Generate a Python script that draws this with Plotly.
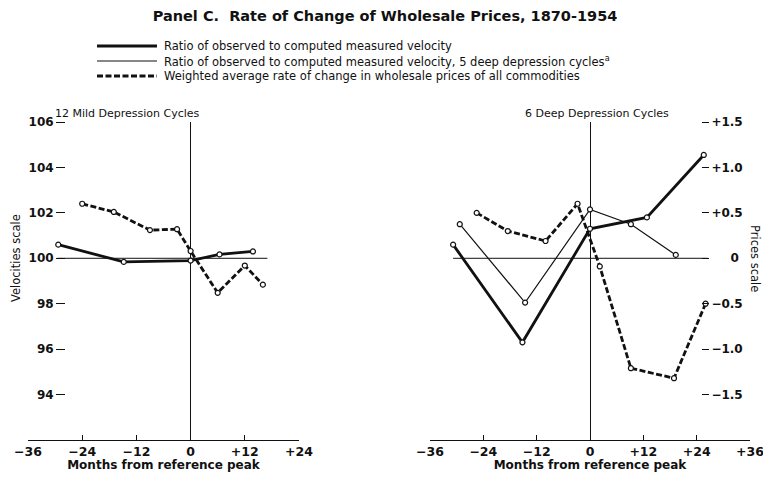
import plotly.graph_objects as go

# ------------------------------------------------------------
# values (months from reference peak)
# ------------------------------------------------------------
# 12 mild depression cycles
mild_vel_months = [-29.3, -14.8, 0, 6.4, 13.8]
mild_vel_ratio = [100.6, 99.84, 99.9, 100.17, 100.3]
mild_price_months = [-24, -17, -9, -3, 0, 6, 12, 16]
mild_price_rate = [0.6, 0.51, 0.31, 0.32, 0.08, -0.38, -0.08, -0.29]

# 6 deep depression cycles
deep_vel_months = [-30.8, -15.2, 0, 12.8, 25.6]
deep_vel_ratio = [100.6, 96.3, 101.3, 101.8, 104.55]
deep5_vel_months = [-29.3, -14.6, 0, 9.2, 19.3]
deep5_vel_ratio = [101.5, 98.05, 102.15, 101.5, 100.15]
deep_price_months = [-25.5, -18.5, -10, -2.8, 2.2, 9.2, 18.9, 26]
deep_price_rate = [0.5, 0.3, 0.19, 0.6, -0.09, -1.21, -1.32, -0.5]

# reference levels (velocity 100 / price change 0)
mild_ref_months = [-29.5, 17]
mild_ref_level = [100, 100]
deep_ref_months = [-30.8, 26.5]
deep_ref_level = [0, 0]

# tick labels
month_ticks_left = [-36, -24, -12, 0, 12, 24]
month_labels_left = ["\u221236", "\u221224", "\u221212", "0", "+12", "+24"]
month_ticks_right = [-36, -24, -12, 0, 12, 24, 36]
month_labels_right = ["\u221236", "\u221224", "\u221212", "0", "+12", "+24", "+36"]
vel_ticks = [94, 96, 98, 100, 102, 104, 106]
price_ticks = [-1.5, -1.0, -0.5, 0, 0.5, 1.0, 1.5]
price_labels = ["\u22121.5", "\u22121.0", "\u22120.5", "\u2007\u2007\u20090", "+0.5", "+1.0", "+1.5"]

legend_names = [
    "Ratio of observed to computed measured velocity",
    "Ratio of observed to computed measured velocity, 5 deep depression cycles<sup>a</sup>",
    "Weighted average rate of change in wholesale prices of all commodities",
]

INK = "#111111"
FONT = "DejaVu Sans"
PAGE = 8                      # body margin of the page around the figure
W, H = 771 - 2 * PAGE, 480 - 2 * PAGE

def px_x(p):
    # window pixel -> paper fraction
    return (p - PAGE) / W

def px_y(p):
    return (H - (p - PAGE)) / H

marker = dict(symbol="circle", size=5, color="white", line=dict(color=INK, width=1.2))
thick = dict(color=INK, width=2.8)
thin = dict(color=INK, width=1.2)
dashed = dict(color=INK, width=2.8, dash="6px,2.5px")

fig = go.Figure()

# ---- left panel ----
fig.add_trace(go.Scatter(x=mild_ref_months, y=mild_ref_level, mode="lines",
                         line=dict(color=INK, width=1), xaxis="x", yaxis="y"))
fig.add_trace(go.Scatter(x=mild_vel_months, y=mild_vel_ratio, mode="lines+markers",
                         line=thick, marker=marker, xaxis="x", yaxis="y"))
fig.add_trace(go.Scatter(x=mild_price_months, y=mild_price_rate, mode="lines+markers",
                         line=dashed, marker=marker, xaxis="x", yaxis="y3"))

# ---- right panel ----
fig.add_trace(go.Scatter(x=deep_ref_months, y=deep_ref_level, mode="lines",
                         line=dict(color=INK, width=1), xaxis="x2", yaxis="y2"))
fig.add_trace(go.Scatter(x=deep_vel_months, y=deep_vel_ratio, mode="lines+markers",
                         line=thick, marker=marker, xaxis="x2", yaxis="y4"))
fig.add_trace(go.Scatter(x=deep5_vel_months, y=deep5_vel_ratio, mode="lines+markers",
                         line=thin, marker=marker, xaxis="x2", yaxis="y4"))
fig.add_trace(go.Scatter(x=deep_price_months, y=deep_price_rate, mode="lines+markers",
                         line=dashed, marker=marker, xaxis="x2", yaxis="y2"))

# ---- key (drawn by hand, rows 15 px apart like the original) ----
key_rows = [46, 61, 76]
key_styles = [thick, thin, dashed]
shapes = []
annotations = []
for row, style, name in zip(key_rows, key_styles, legend_names):
    shapes.append(dict(type="line", xref="paper", yref="paper",
                       x0=px_x(97), x1=px_x(157), y0=px_y(row), y1=px_y(row), line=style))
    annotations.append(dict(text=name, x=px_x(162), y=px_y(row), xref="paper", yref="paper",
                            xanchor="left", yanchor="middle", showarrow=False,
                            font=dict(family=FONT, size=11.5, color=INK)))

annotations += [
    dict(text="12 Mild Depression Cycles", x=px_x(127), y=px_y(113), xref="paper", yref="paper",
         xanchor="center", yanchor="middle", showarrow=False,
         font=dict(family=FONT, size=11, color=INK)),
    dict(text="6 Deep Depression Cycles", x=px_x(597), y=px_y(113), xref="paper", yref="paper",
         xanchor="center", yanchor="middle", showarrow=False,
         font=dict(family=FONT, size=11, color=INK)),
    dict(text="Velocities scale", x=px_x(16), y=px_y(258), xref="paper", yref="paper",
         xanchor="center", yanchor="middle", textangle=-90, showarrow=False,
         font=dict(family=FONT, size=11.5, color=INK)),
    dict(text="Prices scale", x=px_x(755), y=px_y(258), xref="paper", yref="paper",
         xanchor="center", yanchor="middle", textangle=90, showarrow=False,
         font=dict(family=FONT, size=11.5, color=INK)),
]

ydom = [px_y(440), px_y(122)]
xcommon = dict(showline=True, linecolor=INK, linewidth=1.3, ticks="inside", ticklen=5,
               tickwidth=1.2, tickcolor=INK, showgrid=False, zeroline=True,
               zerolinecolor=INK, zerolinewidth=1.3, automargin=False,
               ticklabeloverflow="allow",
               tickfont=dict(family=FONT, size=12.5, color=INK, weight="bold"),
               title=dict(text="Months from reference peak", standoff=1,
                          font=dict(family=FONT, size=12, color=INK, weight="bold")))
ycommon = dict(showline=False, showgrid=False, zeroline=False, automargin=False,
               ticks="outside", tickwidth=1.3, tickcolor=INK,
               tickfont=dict(family=FONT, size=12, color=INK, weight="bold"))

fig.update_layout(
    width=W, height=H, autosize=False,
    margin=dict(l=0, r=0, t=0, b=0),
    paper_bgcolor="white", plot_bgcolor="white",
    font=dict(family=FONT, color=INK),
    showlegend=False,
    title=dict(text="Panel C.  Rate of Change of Wholesale Prices, 1870-1954",
               x=px_x(385), xanchor="center", y=px_y(16), yanchor="middle",
               font=dict(family=FONT, size=14.5, color=INK, weight="bold")),
    xaxis=dict(domain=[px_x(28), px_x(299)], range=[-36, 24], anchor="y",
               tickvals=month_ticks_left, ticktext=month_labels_left, **xcommon),
    xaxis2=dict(domain=[px_x(430), px_x(750)], range=[-36, 36], anchor="y2",
                tickvals=month_ticks_right, ticktext=month_labels_right, **xcommon),
    yaxis=dict(domain=ydom, range=[92, 106], anchor="free", position=px_x(65),
               tickvals=vel_ticks, ticklen=9, **ycommon),
    yaxis3=dict(overlaying="y", anchor="x", range=[-2, 1.5], visible=False),
    yaxis2=dict(domain=ydom, range=[-2, 1.5], anchor="free", side="right",
                position=px_x(701), tickvals=price_ticks, ticktext=price_labels,
                ticklen=7, **ycommon),
    yaxis4=dict(overlaying="y2", anchor="x2", range=[92, 106], visible=False),
    shapes=shapes,
    annotations=annotations,
)

fig.write_html("out.html")
